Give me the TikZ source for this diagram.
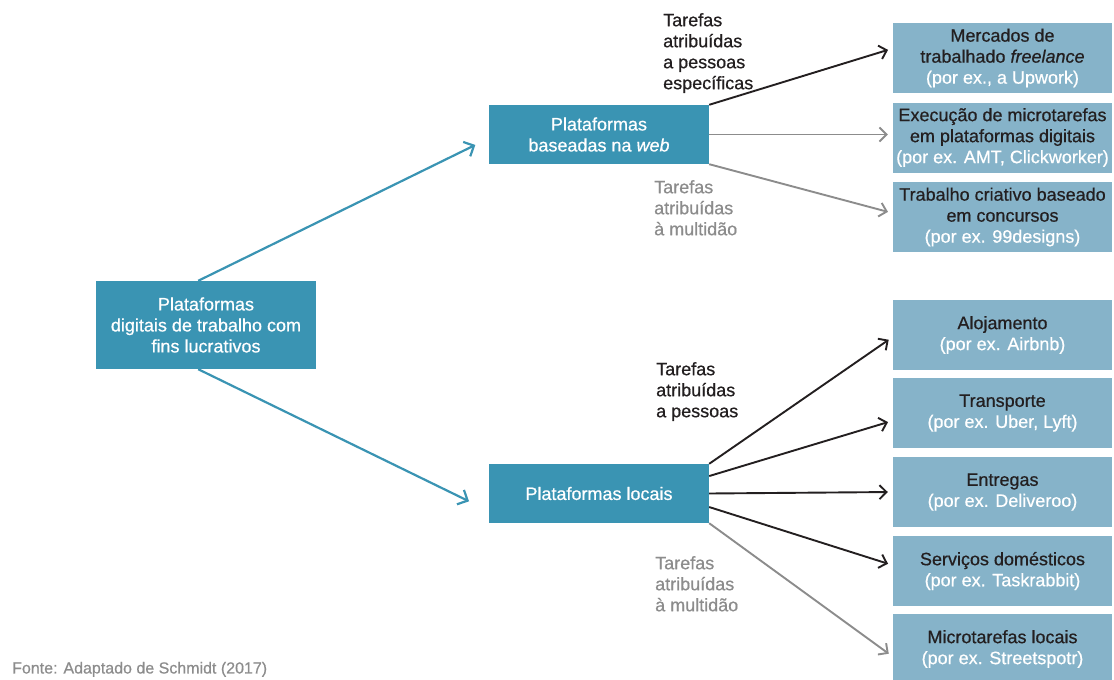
\documentclass[tikz,border=0pt]{standalone}
\usepackage{fontspec}
\setmainfont{Liberation Sans}[FakeBold=0.6]
\usetikzlibrary{arrows.meta}
\definecolor{teal1}{HTML}{3A94B3}
\definecolor{light1}{HTML}{86B3C9}
\definecolor{ink}{HTML}{231F20}
\definecolor{grey1}{HTML}{8C8C8C}
\newcommand{\dk}[1]{\textcolor{ink}{#1}}
\begin{document}
\begin{tikzpicture}[x=1pt, y=-1pt,
    font=\fontsize{18}{21}\selectfont,
    plat/.style={fill=teal1, text=white, align=center, minimum width=220pt, inner sep=0pt},
    ex/.style={fill=light1, text=white, align=center, minimum width=219pt, minimum height=70pt, inner sep=0pt},
    lbl/.style={anchor=north west, align=left, inner sep=0pt},
    tarr/.style={teal1, line width=2.2pt, -{Straight Barb[length=8pt, width=16pt]}},
    karr/.style={ink, line width=1.9pt, -{Straight Barb[length=7pt, width=14pt]}},
    garr/.style={grey1, line width=1.9pt, -{Straight Barb[length=7pt, width=14pt]}}]
    \useasboundingbox (0,0) rectangle (1114,680);
    % platforms
    \node[plat, minimum height=88pt] (plat) at (206,325) {Plataformas\\digitais de trabalho com\\fins lucrativos};
    \node[plat, minimum height=59pt] (web) at (599,134.5) {Plataformas\\baseadas na \textit{web}};
    \node[plat, minimum height=59pt] (loc) at (599,493.5) {Plataformas locais};
    % examples
    \node[ex] (ex1) at (1002.5,58) {\dk{Mercados de}\\\dk{trabalhado \textit{freelance}}\\(por ex., a Upwork)};
    \node[ex] (ex2) at (1002.5,137.5) {\dk{Execução de microtarefas}\\\dk{em plataformas digitais}\\(por ex. AMT, Clickworker)};
    \node[ex] (ex3) at (1002.5,217) {\dk{Trabalho criativo baseado}\\\dk{em concursos}\\(por ex. 99designs)};
    \node[ex] (ex4) at (1002.5,335) {\dk{Alojamento}\\(por ex. Airbnb)};
    \node[ex] (ex5) at (1002.5,413) {\dk{Transporte}\\(por ex. Uber, Lyft)};
    \node[ex] (ex6) at (1002.5,492) {\dk{Entregas}\\(por ex. Deliveroo)};
    \node[ex] (ex7) at (1002.5,571) {\dk{Serviços domésticos}\\(por ex. Taskrabbit)};
    \node[ex] (ex8) at (1002.5,649) {\dk{Microtarefas locais}\\(por ex. Streetspotr)};
    % labels
    \node[lbl, text=ink] (lw1) at (663,13) {Tarefas\\atribuídas\\a pessoas\\específicas};
    \node[lbl, text=grey1] (lw2) at (654,180) {Tarefas\\atribuídas\\à multidão};
    \node[lbl, text=ink] (ll1) at (656,362) {Tarefas\\atribuídas\\a pessoas};
    \node[lbl, text=grey1] (ll2) at (655,556) {Tarefas\\atribuídas\\à multidão};
    \node[anchor=south west, inner sep=0pt, text=grey1, font=\fontsize{16}{19}\selectfont] (src) at (12,677) {Fonte: Adaptado de Schmidt (2017)};
    % arrows
    \draw[tarr, shorten >=15pt] (plat.100) -- (web.182);
    \draw[tarr, shorten >=22pt] (plat.260) -- (loc.189);
    \draw[karr, shorten >=5pt] (web.north east) -- (ex1.175);
    \draw[garr, shorten >=5pt] (web.east) -- (web.east -| ex2.west);
    \draw[garr, shorten >=5pt] (web.south east) -- (ex3.178);
    \draw[karr, shorten >=5pt] (loc.north east) -- (ex4.181);
    \draw[karr, shorten >=5pt] (loc.9.5) -- (ex5.184);
    \draw[karr, shorten >=5pt] (loc.east) -- (ex6.west);
    \draw[karr, shorten >=5pt] (loc.-7.5) -- (ex7.177);
    \draw[garr, shorten >=5pt] (loc.south east) -- (ex8.184);
  \end{tikzpicture}
\end{document}
